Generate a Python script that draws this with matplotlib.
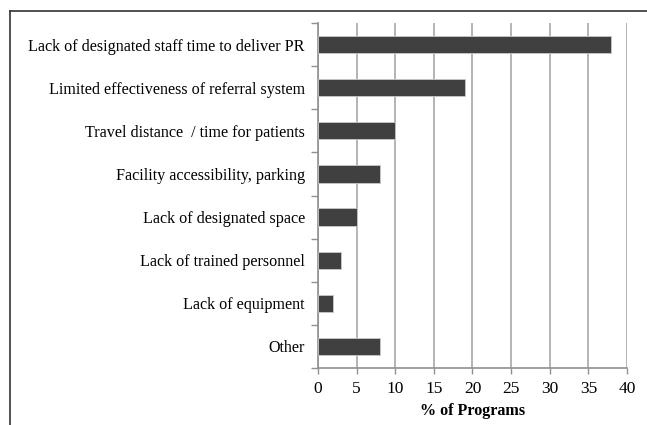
import numpy as np
import matplotlib.pyplot as plt
from matplotlib.lines import Line2D

# data
barriers = ["Lack of designated staff time to deliver PR",
            "Limited effectiveness of referral system",
            "Travel distance  / time for patients",
            "Facility accessibility, parking",
            "Lack of designated space",
            "Lack of trained personnel",
            "Lack of equipment",
            "Other"]
pct_programs = [38, 19, 10, 8, 5, 3, 2, 8]
xticks = [0, 5, 10, 15, 20, 25, 30, 35, 40]

plt.rcParams['font.family'] = ['Liberation Serif', 'DejaVu Serif']
fs = 11.6

fig = plt.figure(figsize=(6.47, 4.25), dpi=100)
ax = fig.add_axes([0.4915, 0.134, 0.4775, 0.812])

y = np.arange(len(barriers))
ax.barh(y, pct_programs, height=0.4, color='#404040', edgecolor='#c8c8c8', linewidth=0.6, zorder=3)

ax.set_xlim(0, 40)
ax.set_ylim(len(barriers) - 0.5, -0.5)
ax.set_xticks(xticks)
ax.set_xticklabels([str(t) for t in xticks], fontsize=12.5)
ax.set_yticks(y)
ax.set_yticklabels(barriers, fontsize=fs)
ax.tick_params(axis='y', length=0, pad=9.5)
ax.set_yticks(np.arange(len(barriers) + 1) - 0.5, minor=True)
ax.tick_params(axis='y', which='minor', length=5, color='#909090', width=1)
ax.tick_params(axis='x', length=4, color='#909090', width=1, pad=5)

ax.grid(axis='x', color='#a8a8a8', linewidth=1.2, zorder=0)
for side in ['top', 'right']:
    ax.spines[side].set_visible(False)
for side in ['left', 'bottom']:
    ax.spines[side].set_color('#909090')
    ax.spines[side].set_linewidth(1.2)

ax.set_xlabel("% of Programs", fontsize=fs, fontweight='bold', labelpad=5)

# outer frame (top and left only)
fx = 10 / 647
fy = 1 - 11 / 425
fig.add_artist(Line2D([fx, 1.0], [fy, fy], color='#333333', linewidth=1.2))
fig.add_artist(Line2D([fx, fx], [0, fy], color='#333333', linewidth=1.2))

fig.savefig("out.png", dpi=100)
